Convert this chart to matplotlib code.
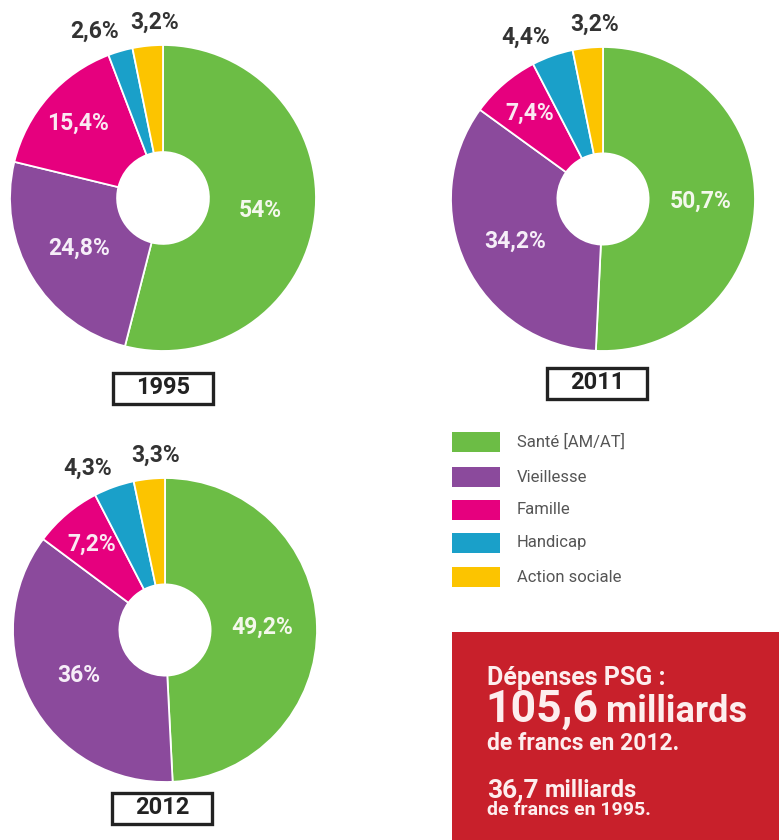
import numpy as np
import matplotlib
matplotlib.use("Agg")
import matplotlib.pyplot as plt
from matplotlib.patches import Rectangle

# data
categories = ["Santé [AM/AT]", "Vieillesse", "Famille", "Handicap", "Action sociale"]
colors = ["#6cbd45", "#8b4a9c", "#e6007e", "#1aa0c9", "#fcc400"]
years = ["1995", "2011", "2012"]
shares_1995 = [54, 24.8, 15.4, 2.6, 3.2]
shares_2011 = [50.7, 34.2, 7.4, 4.4, 3.2]
shares_2012 = [49.2, 36, 7.2, 4.3, 3.3]
labels_1995 = ["54%", "24,8%", "15,4%", "2,6%", "3,2%"]
labels_2011 = ["50,7%", "34,2%", "7,4%", "4,4%", "3,2%"]
labels_2012 = ["49,2%", "36%", "7,2%", "4,3%", "3,3%"]

W, H = 779, 840
FONT = "Roboto"
plt.rcParams["font.family"] = [FONT, "DejaVu Sans"]

fig = plt.figure(figsize=(W / 100, H / 100), dpi=100)
fig.patch.set_facecolor("white")


def fx(x):
    return x / W


def fy(y):
    return 1 - y / H


# label placement: radius and angular nudge per slice
lab_r = [0.64, 0.64, 0.74, 1.18, 1.15]
lab_dt = [0, 0, 0, 6, -3]
lab_col = ["#f4f8ec", "#f6eef8", "#fbe8f2", "#333333", "#333333"]


def donut(cx, cy, r, shares, labels):
    ax = fig.add_axes([fx(cx - r), fy(cy + r), 2 * r / W, 2 * r / H])
    wedges, _ = ax.pie(shares, colors=colors, startangle=90, counterclock=False,
                       radius=1, wedgeprops=dict(width=0.7, edgecolor="white", linewidth=1.3))
    ax.set_xlim(-1, 1)
    ax.set_ylim(-1, 1)
    ax.axis("off")
    for i, w in enumerate(wedges):
        t = np.deg2rad((w.theta1 + w.theta2) / 2 + lab_dt[i])
        ax.text(lab_r[i] * np.cos(t), lab_r[i] * np.sin(t), labels[i],
                ha="center", va="center", fontsize=16.5, fontweight="bold",
                color=lab_col[i], clip_on=False)


def year_box(cx, cy, text):
    bw, bh = 100, 31
    fig.patches.append(Rectangle((fx(cx - bw / 2), fy(cy + bh / 2)), bw / W, bh / H,
                                 transform=fig.transFigure, facecolor="white",
                                 edgecolor="#222222", linewidth=2.4))
    fig.text(fx(cx), fy(cy), text, ha="center", va="center", fontsize=17,
             fontweight="bold", color="#222222")


donut(163, 198, 153, shares_1995, labels_1995)
donut(603, 199, 152, shares_2011, labels_2011)
donut(165, 630, 152, shares_2012, labels_2012)

year_box(163, 388, years[0])
year_box(597, 383, years[1])
year_box(162, 808, years[2])

# legend
leg_y = [442, 477, 510, 543, 577]
for c, lab, y in zip(colors, categories, leg_y):
    fig.patches.append(Rectangle((fx(452), fy(y + 10)), 48 / W, 20 / H,
                                 transform=fig.transFigure, facecolor=c, edgecolor="none"))
    fig.text(fx(517), fy(y), lab, ha="left", va="center", fontsize=12, color="#555555")

# red box
fig.patches.append(Rectangle((fx(452), 0), (W - 452) / W, (H - 632) / H,
                             transform=fig.transFigure, facecolor="#c8202b", edgecolor="none"))
tc = "#fdeeee"
fig.text(fx(487), fy(685), "Dépenses PSG :", fontsize=18, fontweight="bold", color=tc, va="baseline")
fig.text(fx(485), fy(722), "105,6", fontsize=32, fontweight="bold", color=tc, va="baseline")
fig.text(fx(606), fy(722), "milliards", fontsize=26, fontweight="bold", color=tc, va="baseline")
fig.text(fx(487), fy(750), "de francs en 2012.", fontsize=16.5, fontweight="bold", color=tc, va="baseline")
fig.text(fx(487), fy(797), "36,7", fontsize=19, fontweight="bold", color=tc, va="baseline")
fig.text(fx(545), fy(797), "milliards", fontsize=17, fontweight="bold", color=tc, va="baseline")
fig.text(fx(487), fy(815), "de francs en 1995.", fontsize=14, fontweight="bold", color=tc, va="baseline")

fig.savefig("out.png", dpi=100, facecolor="white")
